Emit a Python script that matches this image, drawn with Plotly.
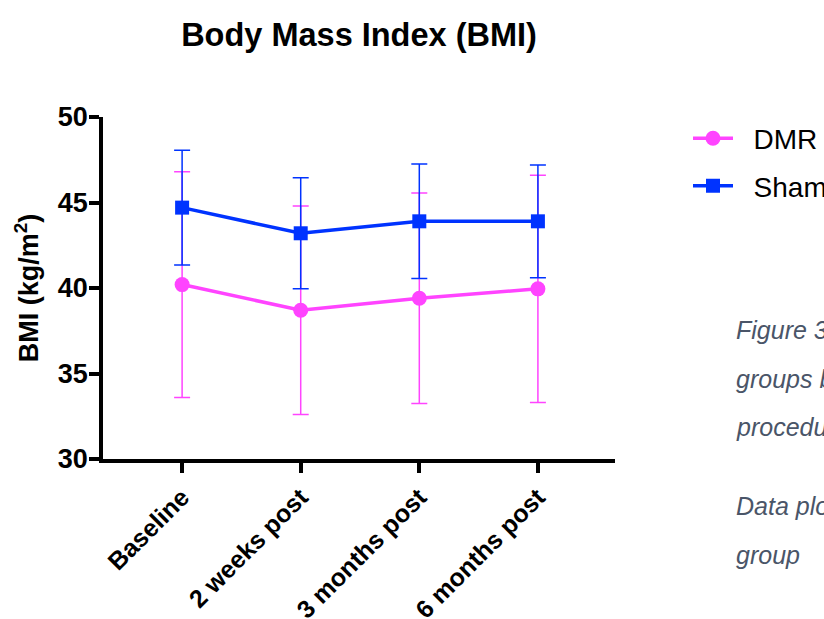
import plotly.graph_objects as go

# Time points and group summaries (mean ± SD)
timepoints = ["Baseline", "2 weeks post", "3 months post", "6 months post"]
dmr_mean = [40.2, 38.7, 39.4, 39.95]
dmr_sd = [6.6, 6.1, 6.15, 6.65]
sham_mean = [44.7, 43.2, 43.9, 43.9]
sham_sd = [3.35, 3.25, 3.35, 3.3]

x_idx = list(range(len(timepoints)))

PINK = "#FF44FF"
BLUE = "#0033FF"
FONT = "Liberation Sans, Arial, sans-serif"
NBSP = "\u00a0"

fig = go.Figure()

fig.add_trace(go.Scatter(
    x=x_idx, y=dmr_mean, name=NBSP * 2 + "DMR", mode="lines+markers",
    line=dict(color=PINK, width=3.5),
    marker=dict(symbol="circle", size=15, color=PINK),
    error_y=dict(type="data", array=dmr_sd, visible=True,
                 color=PINK, thickness=1.5, width=8),
    legendgroup="dmr",
))
fig.add_trace(go.Scatter(
    x=x_idx, y=sham_mean, name=NBSP * 2 + "Sham", mode="lines+markers",
    line=dict(color=BLUE, width=3.5),
    marker=dict(symbol="square", size=14, color=BLUE),
    error_y=dict(type="data", array=sham_sd, visible=True,
                 color=BLUE, thickness=1.5, width=8),
    legendgroup="sham",
))

caption_lines = [
    ("Figure 3. BMI in the DMR and Sham", 330),
    ("groups before and after the", 379),
    ("procedure.", 427),
    ("Data plotted as mean ± SD per", 506),
    ("group", 555),
]
plot_top, plot_bottom = 117, 459
annotations = []
for txt, ypx in caption_lines:
    annotations.append(dict(
        text=txt, xref="paper", yref="paper",
        x=(734 - 103) / 512, y=(plot_bottom - ypx) / (plot_bottom - plot_top),
        xanchor="left", yanchor="middle", showarrow=False,
        font=dict(family=FONT, size=25, color="#4A5568", style="italic"),
    ))

fig.update_layout(
    width=824, height=619,
    margin=dict(l=103, r=209, t=117, b=160, autoexpand=False),
    paper_bgcolor="white", plot_bgcolor="white",
    font=dict(family=FONT, color="black"),
    title=dict(text="<b>Body Mass Index (BMI)</b>", x=(103 + 615) / 2 / 824,
               xanchor="center", y=1 - 35 / 619, yanchor="middle",
               font=dict(size=32.5, color="black")),
    showlegend=True,
    legend=dict(x=(688 - 103) / 512, y=1.01, xanchor="left", yanchor="top",
                xref="paper", yref="paper",
                font=dict(size=28, color="black"),
                traceorder="grouped", tracegroupgap=8,
                bgcolor="rgba(0,0,0,0)", itemwidth=40),
    annotations=annotations,
    xaxis=dict(
        range=[-0.667, 3.65], tickmode="array", tickvals=x_idx,
        ticktext=[f"<b>{t}</b>" for t in timepoints], tickangle=-45,
        showline=True, linecolor="black", linewidth=3.5,
        ticks="outside", ticklen=10, tickwidth=3.5, tickcolor="black",
        showgrid=False, zeroline=False,
        tickfont=dict(size=25, color="black"),
    ),
    yaxis=dict(
        range=[30, 50], tickvals=[30, 35, 40, 45, 50],
        ticktext=["<b>30</b>", "<b>35</b>", "<b>40</b>", "<b>45</b>", "<b>50</b>"],
        showline=True, linecolor="black", linewidth=3.5,
        ticks="outside", ticklen=10, tickwidth=3.5, tickcolor="black",
        showgrid=False, zeroline=False, ticklabelstandoff=-4,
        tickfont=dict(size=27, color="black"),
        title=dict(text="<b>BMI (kg/m<sup>2</sup>)</b>", standoff=12,
                   font=dict(size=27, color="black")),
    ),
)

fig.write_html("out.html")
